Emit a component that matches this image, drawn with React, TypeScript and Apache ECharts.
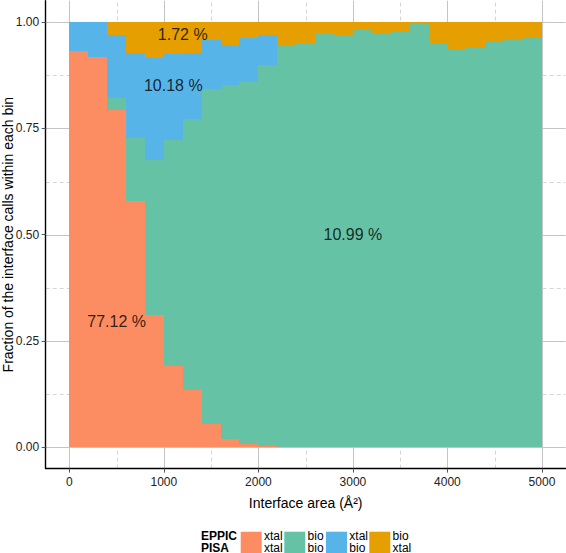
import React, { useEffect, useRef } from "react";
import * as echarts from "echarts";

// ---- data ----
const binStart = [0, 200, 400, 600, 800, 1000, 1200, 1400, 1600, 1800, 2000, 2200, 2400, 2600, 2800, 3000, 3200, 3400, 3600, 3800, 4000, 4200, 4400, 4600, 4800];
const binWidth = 200;
const xtalXtal = [0.933, 0.918, 0.793, 0.578, 0.31, 0.192, 0.134, 0.056, 0.019, 0.009, 0.003, 0, 0, 0, 0, 0, 0, 0, 0, 0, 0, 0, 0, 0, 0];
const bioBio = [0, 0, 0.029, 0.15, 0.365, 0.53, 0.637, 0.787, 0.832, 0.85, 0.897, 0.944, 0.951, 0.974, 0.969, 0.984, 0.971, 0.979, 0.997, 0.948, 0.934, 0.94, 0.952, 0.96, 0.962];
const xtalBio = [0.067, 0.082, 0.147, 0.198, 0.24, 0.202, 0.157, 0.115, 0.095, 0.103, 0.069, 0, 0, 0, 0, 0, 0, 0, 0, 0, 0, 0, 0, 0, 0];
const bioXtal = [0, 0, 0.031, 0.074, 0.085, 0.076, 0.072, 0.042, 0.054, 0.038, 0.031, 0.056, 0.049, 0.026, 0.031, 0.016, 0.029, 0.021, 0.003, 0.052, 0.066, 0.06, 0.048, 0.04, 0.038];

const classNames = ["xtal/xtal", "bio/bio", "xtal/bio", "bio/xtal"];
const eppicLabels = ["xtal", "bio", "xtal", "bio"];
const pisaLabels = ["xtal", "bio", "bio", "xtal"];
const classColors = ["#FC8D62", "#66C2A5", "#56B4E9", "#E69F00"];

const xMajor = [0, 1000, 2000, 3000, 4000, 5000];
const xMinor = [500, 1500, 2500, 3500, 4500];
const yMajor = [0, 0.25, 0.5, 0.75, 1];
const yMinor = [0.125, 0.375, 0.625, 0.875];
const xLimits = [-250, 5250];
const yLimits = [-0.05, 1.05];

const pctTexts = ["1.72 %", "10.18 %", "77.12 %", "10.99 %"];
const pctPositions = [
  [1200, 0.97],
  [1100, 0.85],
  [500, 0.295],
  [3000, 0.5],
];

const FONT = "'Liberation Sans', Arial, Helvetica, sans-serif";

export default function App() {
  const ref = useRef<HTMLDivElement>(null);

  useEffect(() => {
    if (!ref.current) return;
    const chart = echarts.init(ref.current, null, { renderer: "svg" });

    const classValues = [xtalXtal, bioBio, xtalBio, bioXtal];
    const base = binStart.map(() => 0);
    const barSeries = classValues.map((vals, k) => {
      const data = binStart.map((s, i) => {
        const b = base[i];
        const t = b + vals[i];
        base[i] = t;
        return [s, s + binWidth, b, t];
      });
      return {
        type: "custom",
        name: classNames[k],
        z: 2,
        silent: true,
        encode: { x: [0, 1], y: [2, 3] },
        data,
        renderItem: (params: any, api: any) => {
          const x0 = api.value(0);
          const x1 = api.value(1);
          const y0 = api.value(2);
          const y1 = api.value(3);
          if (y1 - y0 <= 0) return null;
          const a = api.coord([x0, y1]);
          const c = api.coord([x1, y0]);
          const l = Math.round(a[0]);
          const r = Math.round(c[0]);
          const t = Math.round(a[1]);
          const btm = Math.round(c[1]);
          return {
            type: "rect",
            shape: { x: l, y: t, width: r - l, height: btm - t },
            style: { fill: classColors[k] },
          };
        },
      };
    });

    const gridData: any[] = [];
    xMajor.forEach((v) => gridData.push([v, 0, 1]));
    xMinor.forEach((v) => gridData.push([v, 0, 0]));
    yMajor.forEach((v) => gridData.push([v, 1, 1]));
    yMinor.forEach((v) => gridData.push([v, 1, 0]));

    const gridSeries = {
      type: "custom",
      name: "grid",
      z: 0,
      silent: true,
      data: gridData,
      encode: { x: 0 },
      renderItem: (params: any, api: any) => {
        const v = api.value(0);
        const isY = api.value(1) === 1;
        const major = api.value(2) === 1;
        let p0, p1;
        if (!isY) {
          p0 = api.coord([v, yLimits[0]]);
          p1 = api.coord([v, yLimits[1]]);
          const x = Math.round(p0[0]) + 0.5;
          p0 = [x, p0[1]];
          p1 = [x, p1[1]];
        } else {
          p0 = api.coord([xLimits[0], v]);
          p1 = api.coord([xLimits[1], v]);
          const y = Math.round(p0[1]) + 0.5;
          p0 = [p0[0], y];
          p1 = [p1[0], y];
        }
        return {
          type: "line",
          shape: { x1: p0[0], y1: p0[1], x2: p1[0], y2: p1[1] },
          style: major
            ? { stroke: "#c4c4c4", lineWidth: 1 }
            : { stroke: "#d6d6d6", lineWidth: 1, lineDash: [4, 3] },
        };
      },
    };

    const labelSeries = {
      type: "scatter",
      name: "pct",
      z: 10,
      silent: true,
      symbolSize: 0,
      data: pctPositions,
      label: {
        show: true,
        position: "inside",
        formatter: (p: any) => pctTexts[p.dataIndex],
        color: "#000",
        fontSize: 16,
        fontFamily: FONT,
      },
    };

    const legendX = [240.7, 284.3, 326, 369.3];
    const line1Y = 535.8;
    const line2Y = 547.6;
    const txt = (text: string, x: number, y: number, bold: boolean) => ({
      type: "text",
      x,
      y,
      style: {
        text,
        font: `${bold ? "bold " : ""}12px ${FONT}`,
        fill: "#000",
        verticalAlign: "middle",
        lineHeight: 11,
      },
    });
    const legendGraphics: any[] = [txt("EPPIC", 201, line1Y, true), txt("PISA", 201, line2Y, true)];
    classNames.forEach((n, k) => {
      legendGraphics.push({
        type: "rect",
        shape: { x: legendX[k], y: 531.7, width: 21, height: 24 },
        style: { fill: classColors[k] },
      });
      legendGraphics.push(txt(eppicLabels[k], legendX[k] + 23.3, line1Y, false));
      legendGraphics.push(txt(pisaLabels[k], legendX[k] + 23.3, line2Y, false));
    });

    chart.setOption({
      animation: false,
      backgroundColor: "#fff",
      grid: { left: 45.7, right: 0.4, top: 0.74, bottom: 84.4, containLabel: false, outerBoundsMode: "none" },
      xAxis: {
        type: "value",
        min: xLimits[0],
        max: xLimits[1],
        splitLine: { show: false },
        axisLine: { show: true, onZero: false, lineStyle: { color: "#000", width: 1.4 } },
        axisTick: { show: true, length: 4, customValues: xMajor, lineStyle: { color: "#555" } },
        axisLabel: {
          customValues: xMajor,
          formatter: (v: number) => String(v),
          margin: 7,
          fontSize: 12,
          color: "#222",
          fontFamily: FONT,
        },
        name: "Interface area (Å²)",
        nameLocation: "middle",
        nameGap: 27,
        nameMoveOverlap: false,
        nameTextStyle: { fontSize: 14, color: "#000", fontFamily: FONT },
      },
      yAxis: {
        type: "value",
        min: yLimits[0],
        max: yLimits[1],
        splitLine: { show: false },
        axisLine: { show: true, onZero: false, lineStyle: { color: "#000", width: 1.4 } },
        axisTick: { show: true, length: 4, customValues: yMajor, lineStyle: { color: "#555" } },
        axisLabel: {
          customValues: yMajor,
          formatter: (v: number) => v.toFixed(2),
          margin: 6.5,
          fontSize: 12,
          color: "#222",
          fontFamily: FONT,
        },
        name: "Fraction of the interface calls within each bin",
        nameLocation: "middle",
        nameGap: 31,
        nameMoveOverlap: false,
        nameTextStyle: { fontSize: 14, color: "#000", fontFamily: FONT },
      },
      graphic: legendGraphics,
      series: [gridSeries, ...barSeries, labelSeries],
    });

    return () => chart.dispose();
  }, []);

  return <div ref={ref} style={{ position: "absolute", left: 0, top: 0, width: 566, height: 553 }} />;
}
